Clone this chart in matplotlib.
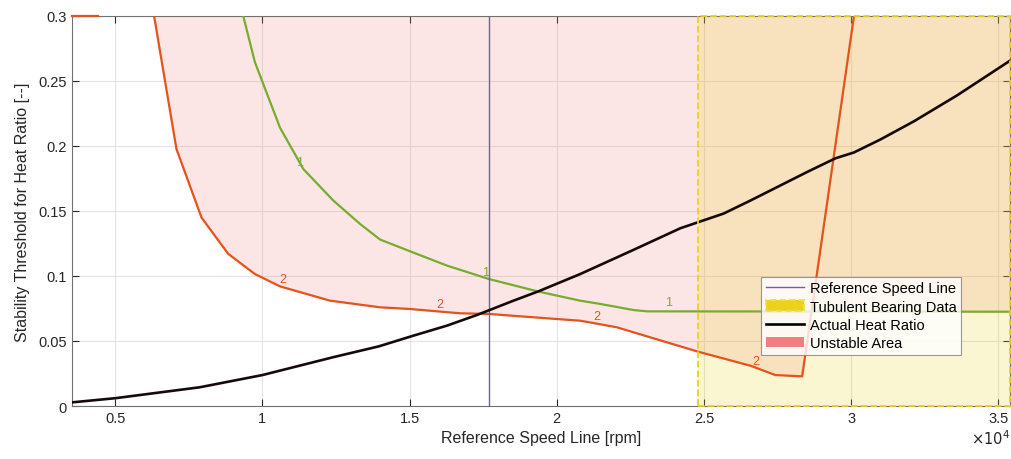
import numpy as np
import matplotlib
matplotlib.use("Agg")
import matplotlib.pyplot as plt
from matplotlib.lines import Line2D
from matplotlib.patches import Patch, Rectangle
from matplotlib.ticker import FuncFormatter

plt.rcParams["font.family"] = ["Liberation Sans", "DejaVu Sans"]

# contour level 2 (red)
red_x = [6320, 7080, 7930, 8840, 9745, 10600, 12300, 14000, 15020, 16720, 17690,
         20000, 20800, 21250, 22050, 23180, 24800, 26580, 27430, 28340, 30100]
red_y = [0.3, 0.1977, 0.145, 0.117, 0.1015, 0.092, 0.081, 0.0759, 0.0746, 0.0713, 0.0708,
         0.0669, 0.0656, 0.0638, 0.0605, 0.0528, 0.0418, 0.031, 0.0238, 0.0228, 0.3]
red_top_x = [3530, 4420]
red_top_y = [0.3, 0.3]

# contour level 1 (green)
green_x = [9350, 9745, 10600, 11390, 12410, 13320, 14000, 15130, 16270, 17690,
           19380, 20800, 21480, 22610, 23070, 35400]
green_y = [0.3, 0.2645, 0.214, 0.1823, 0.158, 0.14, 0.128, 0.118, 0.108, 0.0977,
           0.088, 0.081, 0.0785, 0.0738, 0.0728, 0.0725]

# actual heat ratio
heat_x = [3530, 5000, 7870, 10000, 12400, 13960, 15130, 16270, 17290, 18530, 19380,
          20800, 22600, 24200, 25670, 26580, 28510, 29470, 30100, 31000, 32140,
          33610, 35430]
heat_y = [0.0028, 0.006, 0.0144, 0.0238, 0.0375, 0.0459, 0.0541, 0.0618, 0.070, 0.081,
          0.0882, 0.1015, 0.120, 0.1367, 0.148, 0.158, 0.180, 0.1905, 0.195, 0.205,
          0.219, 0.239, 0.266]

ref_speed = 17690
turb_start = 24800

# contour labels (x, y, text)
red_labels = [(10710, 0.0977, "2"), (16040, 0.0785, "2"), (21370, 0.0695, "2"), (26750, 0.0348, "2")]
green_labels = [(11280, 0.188, "1"), (17570, 0.1028, "1"), (23800, 0.0798, "1")]

xmin, xmax = 3530, 35400
ymin, ymax = 0, 0.3

red_c = "#E4531C"
green_c = "#77AC30"
blue_c = "#6A5FC0"
yellow_c = "#EBD21E"
pink_c = "#F08080"

fig = plt.figure(figsize=(10.12, 4.6), dpi=100)
ax = fig.add_axes([0.0711, 0.1152, 0.9269, 0.848])

# unstable area: above the lower of the two threshold contours
grid = np.linspace(xmin, xmax, 3000)
r_int = np.interp(grid, red_x, red_y, left=ymax, right=ymax)
g_int = np.interp(grid, green_x, green_y, left=ymax, right=ymax)
low = np.minimum(r_int, g_int)
ax.fill_between(grid, low, ymax, where=low < ymax, color=pink_c, alpha=0.2,
                linewidth=0, zorder=1)

# turbulent bearing data box
ax.add_patch(Rectangle((turb_start, ymin), xmax - turb_start, ymax - ymin,
                       facecolor=yellow_c, alpha=0.2, edgecolor="none", zorder=1))
ax.add_patch(Rectangle((turb_start, ymin), xmax - turb_start, ymax - ymin,
                       facecolor="none", edgecolor=yellow_c, linestyle="--",
                       linewidth=1.3, zorder=6, clip_on=False))

ax.plot(red_x, red_y, color=red_c, linewidth=1.6, zorder=3)
ax.plot(red_top_x, red_top_y, color=red_c, linewidth=1.6, zorder=3, clip_on=False)
ax.plot(green_x, green_y, color=green_c, linewidth=1.6, zorder=3)
for x, y, t in red_labels:
    ax.text(x, y, t, color=red_c, fontsize=9, ha="center", va="center", zorder=4)
for x, y, t in green_labels:
    ax.text(x, y, t, color=green_c, fontsize=9, ha="center", va="center", zorder=4)

ax.axvline(ref_speed, color=blue_c, linewidth=1.0, zorder=4)
ax.plot(heat_x, heat_y, color="#150A0A", linewidth=1.9, zorder=5)

ax.set_xlim(xmin, xmax)
ax.set_ylim(ymin, ymax)
ax.set_xticks(np.arange(5000, 35001, 5000))
ax.set_yticks(np.arange(0, 0.3001, 0.05))
ax.xaxis.set_major_formatter(FuncFormatter(lambda v, p: "%g" % (v / 1e4)))
ax.yaxis.set_major_formatter(FuncFormatter(lambda v, p: "%g" % round(v, 3)))
ax.tick_params(direction="in", top=True, right=True, labelsize=10.5, colors="#262626",
               length=5, width=0.8)
ax.grid(True, color="#E3E3E3", linewidth=0.8, zorder=0)
ax.set_axisbelow(True)
for s in ax.spines.values():
    s.set_color("#707070")
    s.set_linewidth(0.8)

ax.set_xlabel("Reference Speed Line [rpm]", fontsize=11.5, color="#262626", labelpad=4)
ax.set_ylabel("Stability Threshold for Heat Ratio [--]", fontsize=11.5, color="#262626",
              labelpad=6)
ax.text(1.0, -0.058, r"$\times 10^4$", transform=ax.transAxes, ha="right", va="top",
        fontsize=10.5, color="#262626")

handles = [
    Line2D([], [], color=blue_c, linewidth=1.0),
    Patch(facecolor=yellow_c, edgecolor="#F2E040", linestyle="--", linewidth=1.3),
    Line2D([], [], color="black", linewidth=1.9),
    Patch(facecolor=pink_c, edgecolor="none"),
]
names = ["Reference Speed Line", "Tubulent Bearing Data", "Actual Heat Ratio", "Unstable Area"]
leg = ax.legend(handles, names, loc="upper left", bbox_to_anchor=(0.735, 0.331),
                fontsize=10.5, frameon=True, fancybox=False, edgecolor="#808080",
                borderpad=0.3, labelspacing=0.3, handlelength=2.6, handletextpad=0.4,
                borderaxespad=0)
leg.get_frame().set_linewidth(0.8)
leg.set_zorder(10)

fig.savefig("out.png", dpi=100)
